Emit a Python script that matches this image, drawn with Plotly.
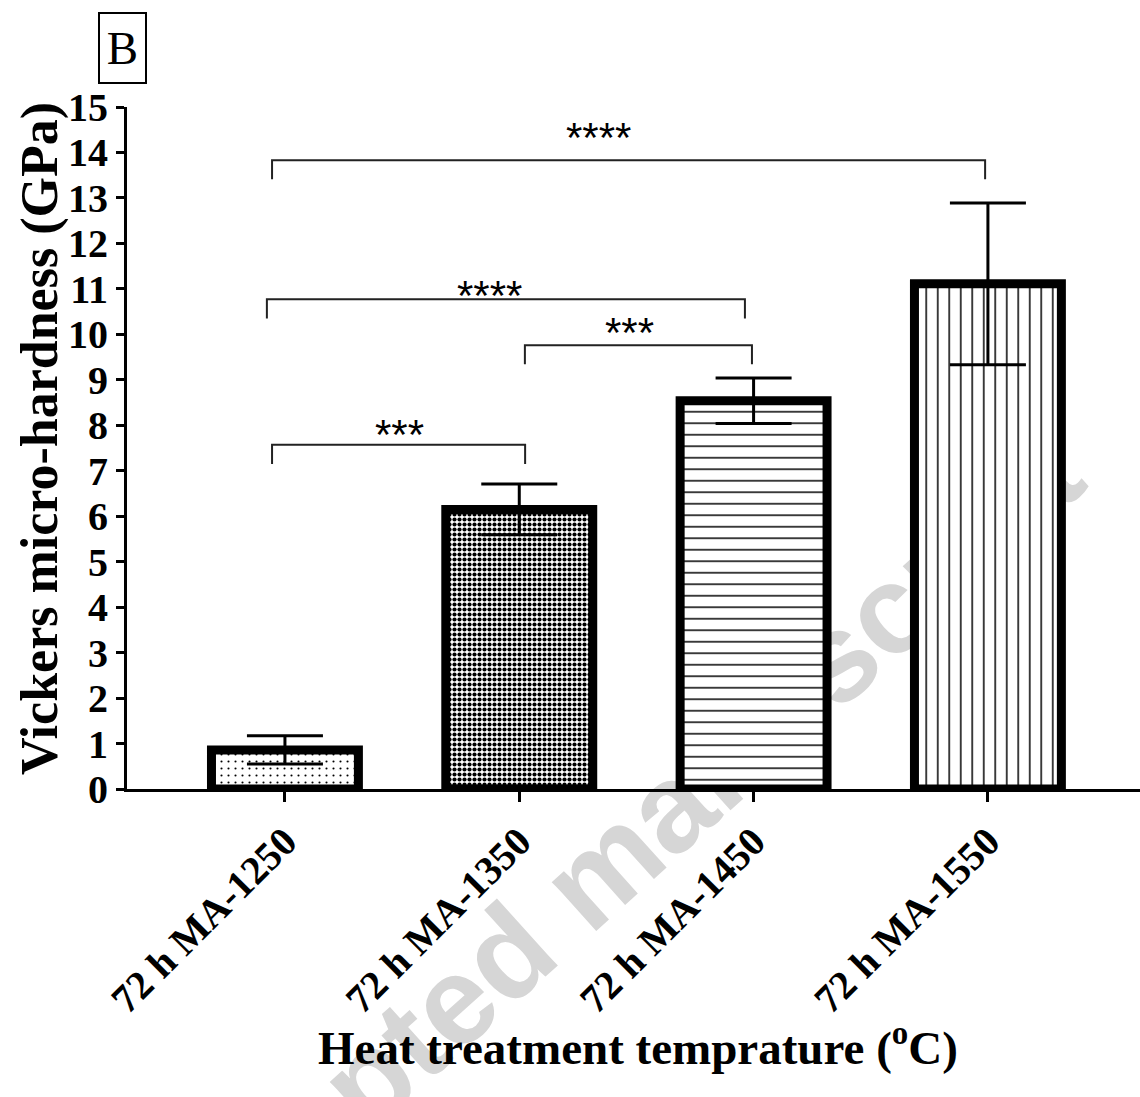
import plotly.graph_objects as go

# ---------------- data ----------------
categories = ["72 h MA-1250", "72 h MA-1350", "72 h MA-1450", "72 h MA-1550"]
hardness_mean = [0.86, 6.15, 8.54, 11.11]
hardness_sd = [0.31, 0.56, 0.50, 1.78]
y_ticks = list(range(0, 16))

# significance brackets (positions in category units / GPa)
bracket_x1 = [-0.055, 1.024, -0.077, -0.055]
bracket_x2 = [1.025, 1.993, 1.963, 2.988]
bracket_y = [7.57, 9.76, 10.77, 13.83]
bracket_labels = ["***", "***", "****", "****"]
label_x = [0.491, 1.472, 0.875, 1.336]
label_y = [7.90, 10.14, 10.97, 14.43]

# ---------------- layout constants ----------------
W, H = 1140, 1097
ML, MR, MT, MB = 127, 0, 107, 308
PW, PH = W - ML - MR, H - MT - MB


def px_x(p):
    return (p - ML) / PW


def px_y(p):
    return (H - MB - p) / PH


serif = "Liberation Serif"
sans = "Liberation Sans"

patterns = [
    dict(shape=".", size=7, solidity=0.07, fgcolor="black", bgcolor="white", fillmode="replace"),
    dict(shape=".", size=5, solidity=0.55, fgcolor="black", bgcolor="white", fillmode="replace"),
    dict(shape="-", size=11.5, solidity=0.13, fgcolor="black", bgcolor="white", fillmode="replace"),
    dict(shape="|", size=11.5, solidity=0.13, fgcolor="black", bgcolor="white", fillmode="replace"),
]

xs = list(range(len(categories)))

fig = go.Figure()

for i in range(len(categories)):
    fig.add_trace(go.Bar(
        x=[xs[i]], y=[hardness_mean[i]],
        width=0.627,
        marker=dict(color="white", line=dict(color="black", width=9), pattern=patterns[i]),
        error_y=dict(type="data", array=[hardness_sd[i]], visible=True,
                     color="black", thickness=3, width=38),
        showlegend=False, hoverinfo="skip",
    ))

drop = 0.42
for x1, x2, yb, lab, lx, ly in zip(bracket_x1, bracket_x2, bracket_y, bracket_labels, label_x, label_y):
    fig.add_trace(go.Scatter(
        x=[x1, x1, x2, x2], y=[yb - drop, yb, yb, yb - drop],
        mode="lines", line=dict(color="#222222", width=2),
        showlegend=False, hoverinfo="skip",
    ))
    fig.add_annotation(
        x=lx, y=ly, xref="x", yref="y", text=lab, showarrow=False,
        xanchor="center", yanchor="middle", yshift=-5,
        font=dict(family=sans, size=42, color="black"),
    )

# axis titles
fig.add_annotation(
    x=px_x(40), y=px_y(439), xref="paper", yref="paper",
    text="<b>Vickers micro-hardness (GPa)</b>", textangle=-90, showarrow=False,
    xanchor="center", yanchor="middle",
    font=dict(family=serif, size=52, color="black"),
)
fig.add_annotation(
    x=px_x(638), y=px_y(1044), xref="paper", yref="paper",
    text="<b>Heat treatment temprature (<sup>o</sup>C)</b>", showarrow=False,
    xanchor="center", yanchor="middle",
    font=dict(family=serif, size=47, color="black"),
)
# panel letter
fig.add_annotation(
    x=px_x(122), y=px_y(48), xref="paper", yref="paper",
    text="B", showarrow=False, xanchor="center", yanchor="middle",
    width=45, height=68, borderpad=0, bordercolor="black", borderwidth=2,
    font=dict(family=serif, size=47, color="black"),
)

# watermark behind the bars
fig.add_shape(
    type="rect", xref="paper", yref="paper",
    x0=px_x(580), x1=px_x(582), y0=px_y(869), y1=px_y(871),
    line=dict(width=0), fillcolor="rgba(0,0,0,0)", layer="below",
    label=dict(text="<b>Accepted manuscript</b>", textangle=-42,
               textposition="middle center",
               font=dict(family=sans, size=125, color="#d6d6d6")),
)

fig.update_layout(
    width=W, height=H,
    margin=dict(l=ML, r=MR, t=MT, b=MB, pad=0),
    paper_bgcolor="white", plot_bgcolor="white",
    barmode="overlay",
    showlegend=False,
    xaxis=dict(
        range=[-0.674, 3.649], tickvals=xs, ticktext=categories, tickangle=-45,
        showline=True, linecolor="black", linewidth=3,
        ticks="outside", ticklen=10, tickwidth=3, tickcolor="black",
        showgrid=False, zeroline=False,
        tickfont=dict(family=serif, size=40, color="black", weight="bold"),
    ),
    yaxis=dict(
        range=[0, 15], tickvals=y_ticks,
        showline=True, linecolor="black", linewidth=3,
        ticks="outside", ticklen=8, tickwidth=3, tickcolor="black",
        showgrid=False, zeroline=False,
        tickfont=dict(family=serif, size=40, color="black", weight="bold"),
    ),
)

fig.write_html("out.html")
